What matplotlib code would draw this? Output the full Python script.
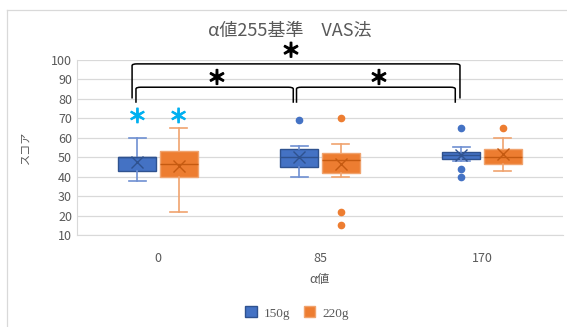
import matplotlib
matplotlib.use("Agg")
import matplotlib.pyplot as plt
import matplotlib.patheffects as pe
from matplotlib.patches import Patch, PathPatch
from matplotlib.path import Path
from matplotlib.lines import Line2D

plt.rcParams['font.family'] = ['Noto Sans CJK JP', 'DejaVu Sans']

categories = ['0', '85', '170']
series = ['150g', '220g']
colors = ['#4472C4', '#ED7D31']
dark = ['#2F528F', '#C55A11']
light = ['#6F90D2', '#F0A36E']

# five-number summaries: (whislo, q1, med, q3, whishi, mean, outliers)
stats_150 = [
    (38, 43, 50, 50, 60, 47.5, []),
    (40, 45, 50, 54, 56, 50.3, [69]),
    (48, 49, 51, 52.5, 55, 51, [65, 44, 40]),
]
stats_220 = [
    (22, 40, 46.5, 53, 65, 45.5, []),
    (40, 42, 48.5, 52, 57, 46.5, [70, 22, 15]),
    (43, 46.5, 50, 54, 60, 51.5, [65]),
]
yticks = [10, 20, 30, 40, 50, 60, 70, 80, 90, 100]

W, H = 567, 327
fig = plt.figure(figsize=(W / 100, H / 100), dpi=100)
ax = fig.add_axes([77 / W, 1 - 235 / H, 486 / W, 175 / H])

offset = 0.127
width = 0.235
for si, st in enumerate([stats_150, stats_220]):
    bx = []
    for (lo, q1, med, q3, hi, mean, fl) in st:
        bx.append(dict(whislo=lo, q1=q1, med=med, q3=q3, whishi=hi, mean=mean, fliers=fl))
    pos = [i + (-offset if si == 0 else offset) for i in range(len(categories))]
    ax.bxp(bx, positions=pos, widths=width, patch_artist=True, showmeans=True,
           boxprops=dict(facecolor=colors[si], edgecolor=dark[si] if si == 0 else light[si], linewidth=1.0),
           whiskerprops=dict(color=light[si], linewidth=1.2),
           capprops=dict(color=light[si], linewidth=1.2),
           capwidths=width * 0.45,
           medianprops=dict(color=dark[si], linewidth=1.0),
           meanprops=dict(marker='x', markeredgecolor=dark[si], markersize=8, markeredgewidth=1.0),
           flierprops=dict(marker='o', markerfacecolor=colors[si], markeredgecolor=colors[si], markersize=4.5))

ax.set_xlim(-0.5, len(categories) - 0.5)
ax.set_ylim(10, 100)
ax.set_yticks(yticks)
ax.set_xticks(range(len(categories)))
ax.set_xticklabels(categories)
ax.tick_params(length=0, labelsize=9, labelcolor='#595959')
ax.tick_params(axis='x', pad=12)
ax.yaxis.grid(True, color='#D9D9D9', linewidth=0.9)
ax.set_axisbelow(True)
for s in ['top', 'right']:
    ax.spines[s].set_visible(False)
ax.spines['left'].set_color('#D9D9D9')
ax.spines['bottom'].set_color('#D9D9D9')


def bracket(x0, x1, ytop, yend, rx=0.03, ry=0.9):
    verts = [(x0, yend), (x0, ytop - ry), (x0, ytop), (x0 + rx, ytop),
             (x1 - rx, ytop), (x1, ytop), (x1, ytop - ry), (x1, yend)]
    codes = [Path.MOVETO, Path.LINETO, Path.CURVE3, Path.CURVE3,
             Path.LINETO, Path.CURVE3, Path.CURVE3, Path.LINETO]
    ax.add_patch(PathPatch(Path(verts, codes), fill=False, edgecolor='black', linewidth=1.1, clip_on=False))


bracket(-0.160, 1.864, 98, 80.2)
bracket(-0.136, 0.835, 86, 78)
bracket(0.855, 1.835, 86, 78)

star_kw = dict(ha='center', va='center', color='black', fontsize=14, fontweight='bold',
               family=['Noto Sans CJK JP', 'DejaVu Sans'], clip_on=False,
               path_effects=[pe.withStroke(linewidth=0.9, foreground='black')])
ax.text(0.821, 104.3, '＊', **star_kw)
ax.text(0.364, 90.3, '＊', **star_kw)
ax.text(1.364, 90.3, '＊', **star_kw)
cyan_kw = dict(ha='center', va='center', color='#00B0F0', fontsize=14, fontweight='bold',
               family=['Noto Sans CJK JP', 'DejaVu Sans'],
               path_effects=[pe.withStroke(linewidth=0.6, foreground='#00B0F0')])
ax.text(-offset, 70.5, '＊', **cyan_kw)
ax.text(offset, 70.5, '＊', **cyan_kw)

fig.text(290 / W, 1 - 31 / H, 'α値255基準\u3000VAS法', ha='center', va='center', fontsize=13, color='#595959')
fig.text(320 / W, 1 - 279 / H, 'α値', ha='center', va='center', fontsize=9, color='#595959')
fig.text(25 / W, 1 - 147 / H, 'スコア', rotation=90, ha='center', va='center', fontsize=8, color='#595959')

handles = [Patch(facecolor=colors[i], edgecolor=light[i] if i else dark[i], label=series[i]) for i in range(2)]
leg = fig.legend(handles=handles, loc='center', bbox_to_anchor=(297 / W, 1 - 313 / H), ncol=2, frameon=False,
                 prop=dict(family='Liberation Serif', size=9.5),
                 handlelength=0.9, handleheight=0.9, handletextpad=0.5, columnspacing=1.0)
for t in leg.get_texts():
    t.set_color('#595959')

# chart area border (left and top)
fig.add_artist(Line2D([7 / W, 7 / W], [0, 1 - 10 / H], transform=fig.transFigure, color='#D9D9D9', linewidth=0.9))
fig.add_artist(Line2D([7 / W, 1], [1 - 10 / H, 1 - 10 / H], transform=fig.transFigure, color='#D9D9D9', linewidth=0.9))

fig.savefig('out.png', dpi=100)
